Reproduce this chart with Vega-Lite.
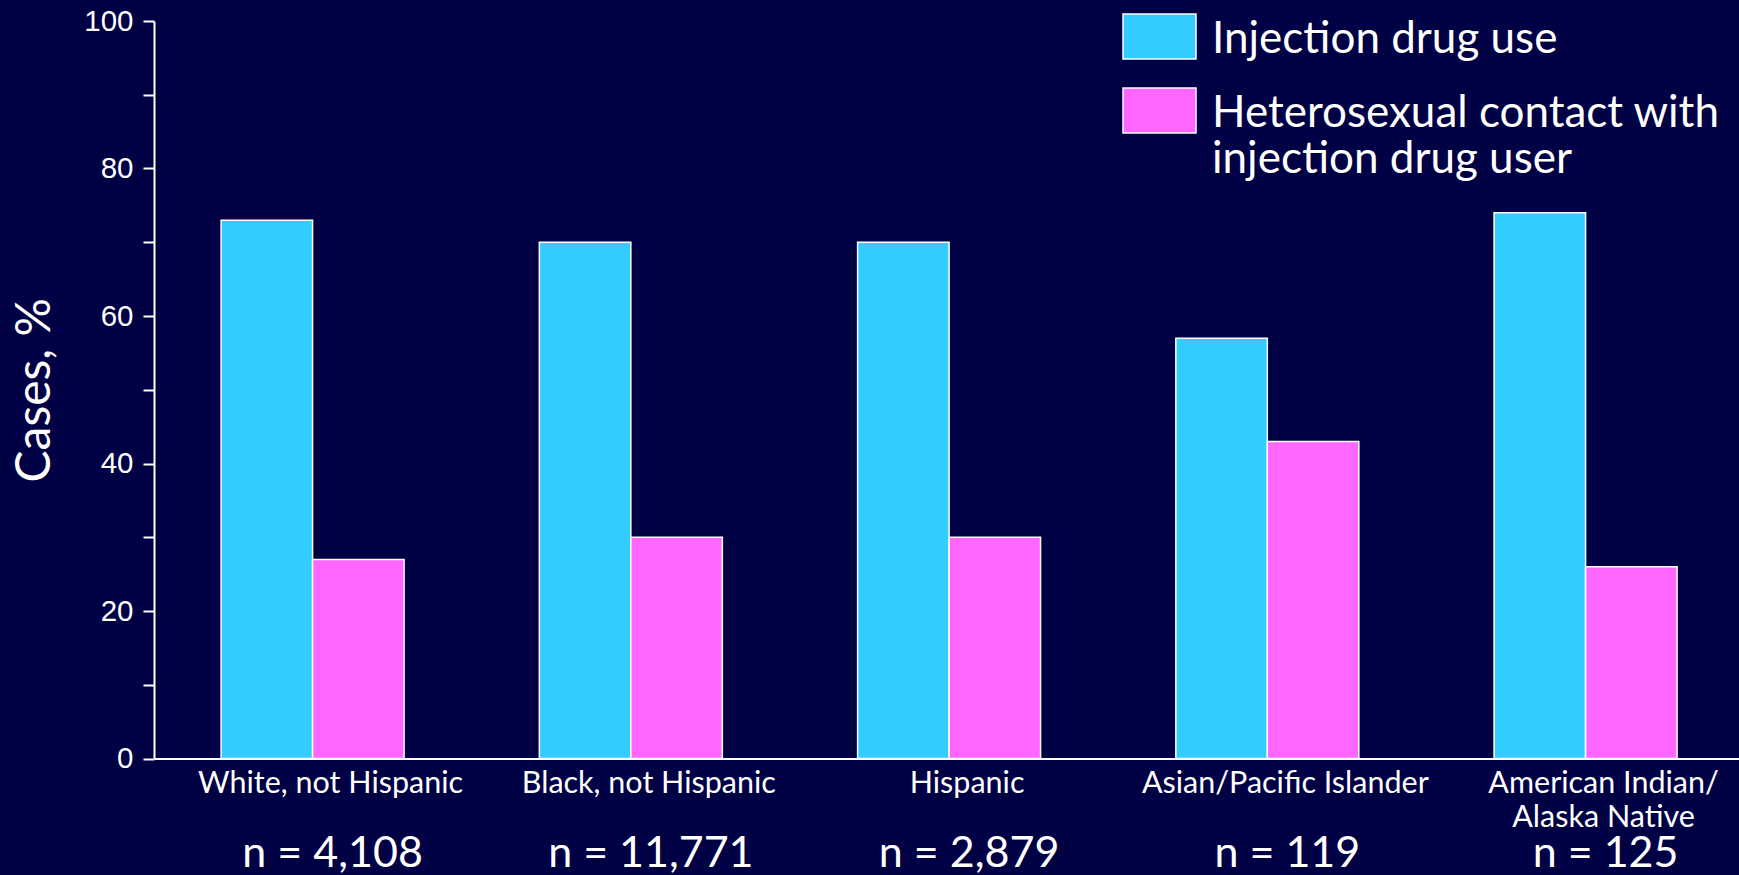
{
  "$schema": "https://vega.github.io/schema/vega-lite/v6.json",
  "width": 1585,
  "height": 737.5,
  "autosize": {"type": "none"},
  "padding": {"left": 154, "top": 21, "right": 0, "bottom": 116.5},
  "background": "#000044",
  "config": {"view": {"stroke": null}},
  "datasets": {
    "bars": [
      {"group": "White, not Hispanic", "series": "Injection drug use", "value": 73},
      {"group": "White, not Hispanic", "series": "Heterosexual contact with injection drug user", "value": 27},
      {"group": "Black, not Hispanic", "series": "Injection drug use", "value": 70},
      {"group": "Black, not Hispanic", "series": "Heterosexual contact with injection drug user", "value": 30},
      {"group": "Hispanic", "series": "Injection drug use", "value": 70},
      {"group": "Hispanic", "series": "Heterosexual contact with injection drug user", "value": 30},
      {"group": "Asian/Pacific Islander", "series": "Injection drug use", "value": 57},
      {"group": "Asian/Pacific Islander", "series": "Heterosexual contact with injection drug user", "value": 43},
      {"group": "American Indian/Alaska Native", "series": "Injection drug use", "value": 74},
      {"group": "American Indian/Alaska Native", "series": "Heterosexual contact with injection drug user", "value": 26}
    ],
    "nlabels": [
      {"group": "White, not Hispanic", "n": "n = 4,108"},
      {"group": "Black, not Hispanic", "n": "n = 11,771"},
      {"group": "Hispanic", "n": "n = 2,879"},
      {"group": "Asian/Pacific Islander", "n": "n = 119"},
      {"group": "American Indian/Alaska Native", "n": "n = 125"}
    ]
  },
  "layer": [
    {
      "data": {"name": "bars"},
      "mark": {"type": "bar", "stroke": "white", "strokeWidth": 1.5},
      "encoding": {
        "x": {
          "field": "group", "type": "nominal", "sort": null, "title": null,
          "scale": {"paddingInner": 0.425, "paddingOuter": 0.2027, "align": 0.52},
          "axis": {"domainColor": "white", "domainWidth": 2, "ticks": false, "tickSize": 0, "grid": false,
            "labelColor": "white", "labelFont": "Lato", "labelFontSize": 30.5, "labelPadding": 10, "labelAngle": 0,
            "labelOffset": 18, "labelLimit": 500, "labelLineHeight": 34, "labelBaseline": "top", "labelOverlap": false,
            "labelExpr": "datum.label == 'American Indian/Alaska Native' ? ['American Indian/', 'Alaska Native'] : datum.label"}
        },
        "xOffset": {"field": "series", "type": "nominal", "sort": null, "scale": {"paddingInner": 0, "paddingOuter": 0}},
        "y": {
          "field": "value", "type": "quantitative", "title": "Cases, %",
          "scale": {"domain": [0, 100], "nice": false},
          "axis": {"values": [0, 10, 20, 30, 40, 50, 60, 70, 80, 90, 100],
            "labelExpr": "datum.value % 20 == 0 ? datum.label : ''",
            "domainColor": "white", "domainWidth": 2, "tickColor": "white", "tickWidth": 2, "tickSize": 11,
            "labelColor": "white", "labelFont": "Liberation Sans", "labelFontSize": 29.5, "labelPadding": 10, "grid": false,
            "titleColor": "white", "titleFont": "Lato", "titleFontSize": 48, "titleFontWeight": "normal", "titlePadding": 24}
        },
        "color": {
          "field": "series", "type": "nominal", "sort": null,
          "scale": {"domain": ["Injection drug use", "Heterosexual contact with injection drug user"], "range": ["#33CCFF", "#FF66FF"]},
          "legend": {"orient": "none", "legendX": 968, "legendY": -22, "title": null, "padding": 0,
            "symbolType": "M-1,-0.616H1V0.616H-1Z", "symbolSize": 5329, "symbolStrokeColor": "white", "symbolStrokeWidth": 1.5, "symbolOpacity": 1,
            "labelColor": "white", "labelFont": "Lato", "labelFontSize": 44, "labelLimit": 1000, "labelOffset": 15,
            "labelBaseline": "alphabetic", "labelLineHeight": 50, "rowPadding": 11,
            "labelExpr": "datum.label == 'Heterosexual contact with injection drug user' ? ['Heterosexual contact with', 'injection drug user'] : datum.label",
            "encoding": {"labels": {"dy": {"value": 16}}}}
        }
      }
    },
    {
      "data": {"name": "nlabels"},
      "mark": {"type": "text", "font": "Lato", "fontSize": 43, "color": "white", "baseline": "alphabetic", "dx": 20},
      "encoding": {
        "x": {"field": "group", "type": "nominal", "sort": null, "title": null},
        "y": {"datum": -14.7, "type": "quantitative", "title": "Cases, %"},
        "text": {"field": "n"}
      }
    }
  ]
}
